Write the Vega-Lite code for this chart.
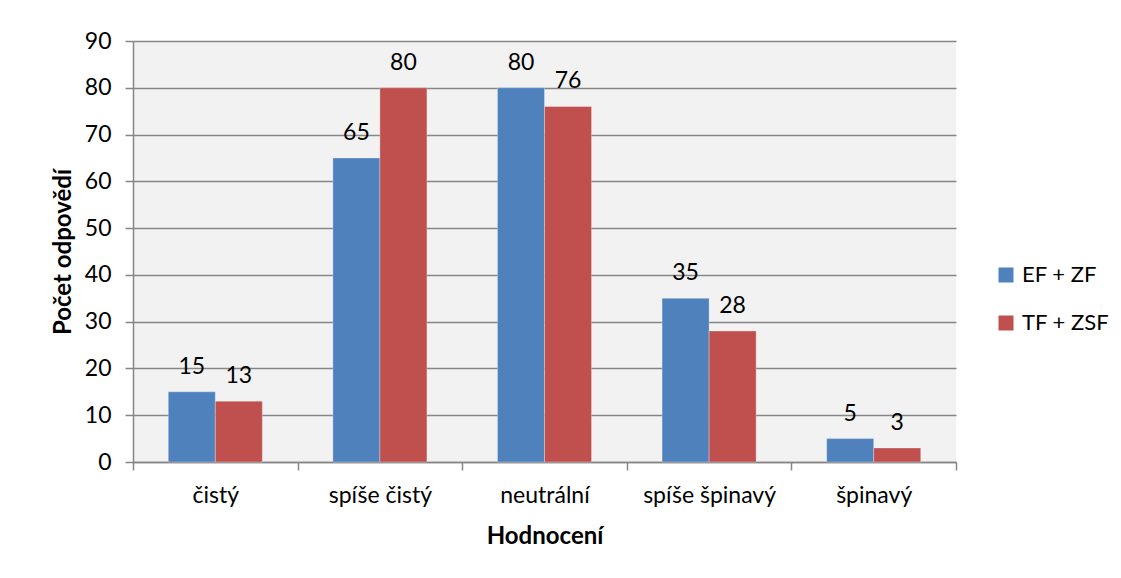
{
  "$schema": "https://vega.github.io/schema/vega-lite/v6.json",
  "width": 823,
  "height": 421,
  "autosize": {"type": "none"},
  "padding": {"left": 133, "top": 41, "right": 165, "bottom": 116},
  "background": "white",
  "config": {
    "font": "Lato",
    "view": {"fill": "#F2F2F2", "stroke": null},
    "axis": {"labelFont": "Lato", "titleFont": "Lato", "labelColor": "black", "titleColor": "black", "domainColor": "#868686", "tickColor": "#868686", "gridColor": "#868686", "gridOpacity": 1, "domainWidth": 1.5, "tickWidth": 1.5, "gridWidth": 1.5}
  },
  "data": {
    "values": [
      {"kat": "čistý", "skupina": "EF + ZF", "pocet": 15},
      {"kat": "čistý", "skupina": "TF + ZSF", "pocet": 13},
      {"kat": "spíše čistý", "skupina": "EF + ZF", "pocet": 65},
      {"kat": "spíše čistý", "skupina": "TF + ZSF", "pocet": 80},
      {"kat": "neutrální", "skupina": "EF + ZF", "pocet": 80},
      {"kat": "neutrální", "skupina": "TF + ZSF", "pocet": 76},
      {"kat": "spíše špinavý", "skupina": "EF + ZF", "pocet": 35},
      {"kat": "spíše špinavý", "skupina": "TF + ZSF", "pocet": 28},
      {"kat": "špinavý", "skupina": "EF + ZF", "pocet": 5},
      {"kat": "špinavý", "skupina": "TF + ZSF", "pocet": 3}
    ]
  },
  "encoding": {
    "x": {
      "field": "kat", "type": "nominal", "sort": null,
      "scale": {"paddingInner": 0, "paddingOuter": 0},
      "axis": {"title": "Hodnocení", "titleFontSize": 24, "titleFontWeight": "bold", "titlePadding": 17, "labelAngle": 0, "labelFontSize": 23, "labelPadding": 14, "tickBand": "extent", "tickSize": 8, "grid": false}
    },
    "xOffset": {"field": "skupina", "type": "nominal", "scale": {"paddingInner": 0, "paddingOuter": 0.75}},
    "y": {
      "field": "pocet", "type": "quantitative",
      "scale": {"domain": [0, 90]},
      "axis": {"title": "Počet odpovědí", "titleFontSize": 24, "titleFontWeight": "bold", "titlePadding": 9, "values": [0, 10, 20, 30, 40, 50, 60, 70, 80, 90], "labelFontSize": 23, "labelPadding": 14, "tickSize": 8, "grid": true, "domain": true}
    }
  },
  "layer": [
    {
      "mark": {"type": "bar", "stroke": "white", "strokeWidth": 0.5, "strokeOpacity": 0.6},
      "encoding": {
        "color": {
          "field": "skupina", "type": "nominal",
          "scale": {"domain": ["EF + ZF", "TF + ZSF"], "range": ["#4F81BD", "#C0504D"]},
          "legend": {"title": null, "orient": "none", "legendX": 862, "legendY": 223, "symbolType": "square", "symbolSize": 225, "symbolStrokeWidth": 0, "labelFontSize": 22, "labelFont": "Lato", "labelColor": "black", "rowPadding": 26, "labelOffset": 5}
        }
      }
    },
    {
      "mark": {"type": "text", "baseline": "alphabetic", "dy": -18, "fontSize": 23, "color": "black"},
      "encoding": {"text": {"field": "pocet", "type": "quantitative"}}
    }
  ]
}
